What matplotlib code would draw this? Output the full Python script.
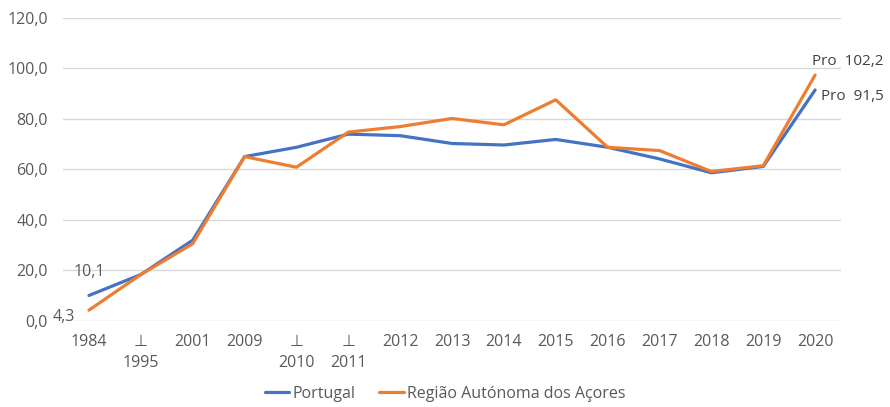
import numpy as np
import matplotlib
matplotlib.use("Agg")
import matplotlib.pyplot as plt
from matplotlib.ticker import FuncFormatter

plt.rcParams['font.family'] = ['Open Sans', 'DejaVu Sans']

years = ['1984', '1995', '2001', '2009', '2010', '2011', '2012', '2013',
         '2014', '2015', '2016', '2017', '2018', '2019', '2020']
# categories drawn with a break mark and the year on a second line
broken = ['1995', '2010', '2011']
portugal = [10.1, 18.4, 32.0, 65.1, 68.8, 74.0, 73.4, 70.3,
            69.7, 71.9, 68.8, 64.2, 58.7, 61.2, 91.5]
acores = [4.3, 18.4, 30.6, 65.1, 60.9, 74.8, 77.0, 80.2,
          77.7, 87.6, 68.8, 67.5, 59.2, 61.5, 97.4]
label_portugal_end = 'Pro  91,5'
label_acores_end = 'Pro  102,2'

blue = '#4472C4'
orange = '#ED7D31'
grey = '#595959'

fig = plt.figure(figsize=(8.9, 4.07), dpi=100)
ax = fig.add_axes([0.0708, 0.2113, 0.8742, 0.7445])

x = np.arange(len(years))
ax.plot(x, portugal, color=blue, lw=2.3, label='Portugal', solid_capstyle='round', zorder=3)
ax.plot(x, acores, color=orange, lw=2.3, label='Região Autónoma dos Açores', solid_capstyle='round', zorder=3)

ax.set_xlim(-0.5, len(years) - 0.5)
ax.set_ylim(0, 120)
ax.set_yticks(np.arange(0, 121, 20))
ax.yaxis.set_major_formatter(FuncFormatter(lambda v, p: f'{v:.1f}'.replace('.', ',')))
ax.grid(axis='y', color='#D9D9D9', lw=1)
ax.set_axisbelow(True)
for s in ax.spines.values():
    s.set_visible(False)
ax.tick_params(length=0, labelsize=11.5, labelcolor=grey)
ax.tick_params(axis='y', pad=11)

ax.set_xticks(x)
ax.set_xticklabels(['\u22a5\n' + y if y in broken else y for y in years],
                   linespacing=1.45, va='top')
ax.tick_params(axis='x', pad=9)

# data labels
ax.annotate(f'{portugal[0]:.1f}'.replace('.', ','), (0, portugal[0]), xytext=(0, 17),
            textcoords='offset points', ha='center', va='center', fontsize=11.5, color=grey)
ax.annotate(f'{acores[0]:.1f}'.replace('.', ','), (0, acores[0]), xytext=(-10, -5),
            textcoords='offset points', ha='right', va='center', fontsize=11.5, color=grey)
ax.annotate(label_portugal_end, (x[-1], portugal[-1]), xytext=(4, -5),
            textcoords='offset points', ha='left', va='center', fontsize=11, color='#404040',
            annotation_clip=False)
ax.annotate(label_acores_end, (x[-1], acores[-1]), xytext=(-2, 10),
            textcoords='offset points', ha='left', va='center', fontsize=11, color='#404040',
            annotation_clip=False)

fig.legend(loc='center', bbox_to_anchor=(0.5, 0.032), ncol=2, frameon=False,
           fontsize=11.5, handlelength=1.55, handletextpad=0.2, columnspacing=1.45,
           labelcolor=grey)

fig.savefig('out.png', dpi=100)
